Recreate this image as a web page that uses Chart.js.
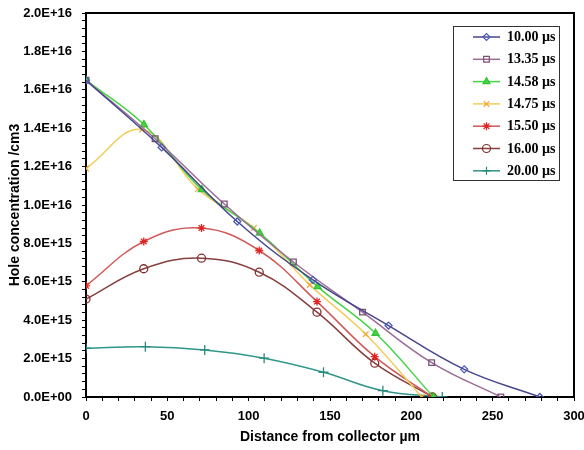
<!DOCTYPE html>
<html><head><meta charset="utf-8">
<script src="https://cdn.jsdelivr.net/npm/chart.js@4.4.0/dist/chart.umd.min.js"></script>
<style>html,body{margin:0;padding:0;background:#fff}#wrap{width:584px;height:450px}</style>
</head><body><div id="wrap"><canvas id="c" width="584" height="450"></canvas></div>
<script>
// ---- data ----
const seriesLabels = ['10.00 µs', '13.35 µs', '14.58 µs', '14.75 µs', '15.50 µs', '16.00 µs', '20.00 µs'];

const dist1000 = [0, 46.5, 93, 139.5, 186, 232.5, 279];
const conc1000 = [1.65e16, 1.30e16, 9.14e15, 6.1e15, 3.72e15, 1.44e15, 0];

const dist1335 = [0, 42.5, 85, 127.5, 170, 212.5, 255];
const conc1335 = [1.65e16, 1.345e16, 1.005e16, 7.03e15, 4.42e15, 1.79e15, 0];

const dist1458 = [0, 35.6, 71.2, 106.8, 142.4, 178, 213.6];
const conc1458 = [1.65e16, 1.419e16, 1.08e16, 8.54e15, 5.75e15, 3.32e15, 0];

const dist1475 = [0, 34.4, 68.8, 103.2, 137.6, 172, 206.4];
const conc1475 = [1.19e16, 1.393e16, 1.083e16, 8.8e15, 5.84e15, 3.27e15, 0];

const dist1550 = [0, 35.5, 71, 106.5, 142, 177.5, 213];
const conc1550 = [5.79e15, 8.1e15, 8.8e15, 7.63e15, 4.97e15, 2.1e15, 0];

const dist1600 = [0, 35.5, 71, 106.5, 142, 177.5, 213];
const conc1600 = [5.1e15, 6.68e15, 7.23e15, 6.5e15, 4.42e15, 1.76e15, 0];

const dist2000 = [0, 36.5, 73, 109.5, 146, 182.5, 219];
const conc2000 = [2.54e15, 2.62e15, 2.45e15, 2.02e15, 1.29e15, 0.33e15, 0];

const xTickMajor = [0, 50, 100, 150, 200, 250, 300];

// ---- styles ----
const styles = [
  {line: '#46468c', mark: '#4a5ab8', bg: 'rgba(0,0,0,0)', ps: 'rectRot', r: 3.5},
  {line: '#9c6c98', mark: '#7a5272', bg: 'rgba(0,0,0,0)', ps: 'rect', r: 4},
  {line: '#44d444', mark: '#33c433', bg: '#44d444', ps: 'triangle', r: 4},
  {line: '#f2cc5c', mark: '#f0a838', bg: 'rgba(0,0,0,0)', ps: 'crossRot', r: 4},
  {line: '#d05a5a', mark: '#e02424', bg: 'rgba(0,0,0,0)', ps: 'star', r: 4},
  {line: '#86403e', mark: '#86302e', bg: 'rgba(0,0,0,0)', ps: 'circle', r: 4},
  {line: '#2f968a', mark: '#2a8a7e', bg: 'rgba(0,0,0,0)', ps: 'cross', r: 5}
];

const allDist = [dist1000, dist1335, dist1458, dist1475, dist1550, dist1600, dist2000];
const allConc = [conc1000, conc1335, conc1458, conc1475, conc1550, conc1600, conc2000];

const datasets = seriesLabels.map((lab, k) => ({
  label: lab,
  data: allDist[k].map((x, i) => ({x: x, y: allConc[k][i]})),
  borderColor: styles[k].line,
  borderWidth: 1.5,
  tension: 0.4,
  fill: false,
  pointStyle: styles[k].ps,
  pointRadius: styles[k].r,
  pointBorderColor: styles[k].mark,
  pointBackgroundColor: styles[k].bg,
  pointBorderWidth: 1.3
}));

function fmtE(v) {
  v = Math.round(v / 2e15) * 2e15;
  if (v === 0) return '0.0E+00';
  const e = Math.floor(Math.log10(v) + 1e-9);
  const m = v / Math.pow(10, e);
  return m.toFixed(1) + 'E+' + (e < 10 ? '0' + e : String(e));
}

const frame = {
  id: 'frame',
  beforeDatasetsDraw(chart) {
    const {ctx, chartArea: a} = chart;
    ctx.save();
    ctx.strokeStyle = '#000';
    ctx.lineWidth = 2;
    ctx.beginPath();
    ctx.moveTo(a.left, a.top);
    ctx.lineTo(a.right, a.top);
    ctx.lineTo(a.right, a.bottom);
    ctx.stroke();
    ctx.restore();
  }
};

const boxLegend = {
  id: 'boxLegend',
  afterDraw(chart) {
    const ctx = chart.ctx;
    ctx.save();
    ctx.fillStyle = '#fff';
    ctx.fillRect(453, 26, 106, 154);
    ctx.strokeStyle = '#333';
    ctx.lineWidth = 1;
    ctx.strokeRect(453.5, 26.5, 106, 154);
    chart.data.datasets.forEach((ds, i) => {
      const y = 37 + i * 22.3;
      ctx.strokeStyle = ds.borderColor;
      ctx.lineWidth = 1.5;
      ctx.beginPath();
      ctx.moveTo(473, y);
      ctx.lineTo(500, y);
      ctx.stroke();
      ctx.strokeStyle = ds.pointBorderColor;
      ctx.fillStyle = ds.pointBackgroundColor;
      ctx.lineWidth = 1.2;
      Chart.helpers.drawPoint(ctx, {pointStyle: ds.pointStyle, radius: Math.min(ds.pointRadius, 4), rotation: 0, borderWidth: 1.2}, 486.5, y);
      ctx.fillStyle = '#000';
      ctx.font = 'bold 14px "Liberation Serif", "Times New Roman", serif';
      ctx.textBaseline = 'middle';
      ctx.textAlign = 'left';
      ctx.fillText(ds.label, 507, y + 0.5);
    });
    ctx.restore();
  }
};

const sansBold = {family: '"Liberation Sans", Arial, sans-serif', weight: 'bold', size: 13};

new Chart(document.getElementById('c'), {
  type: 'line',
  data: {datasets: datasets},
  options: {
    responsive: false,
    devicePixelRatio: 1,
    animation: false,
    layout: {padding: {top: 13, right: 10, bottom: 0, left: 0}},
    plugins: {legend: {display: false}, tooltip: {enabled: false}},
    scales: {
      x: {
        type: 'linear', min: 0, max: 300,
        ticks: {
          stepSize: 10, autoSkip: false, maxRotation: 0, padding: 8,
          color: '#000', font: sansBold,
          callback: v => xTickMajor.includes(Math.round(v)) && Math.abs(v - Math.round(v)) < 1e-6 ? String(Math.round(v)) : ''
        },
        grid: {drawOnChartArea: false, drawTicks: true, tickLength: 4, color: '#000', lineWidth: 1},
        border: {color: '#000', width: 2},
        title: {display: true, text: 'Distance from collector µm', color: '#000',
                font: {family: '"Liberation Sans", Arial, sans-serif', weight: 'bold', size: 14},
                padding: {top: 0, bottom: 4}},
        afterFit: s => { s.height = 53; s.paddingRight = 0; s.paddingLeft = 0; }
      },
      y: {
        type: 'linear', min: 0, max: 2e16,
        ticks: {
          stepSize: 4e14, autoSkip: false, padding: 10,
          color: '#000', font: sansBold,
          callback: v => Math.abs(v / 2e15 - Math.round(v / 2e15)) < 1e-6 ? fmtE(v) : ''
        },
        grid: {drawOnChartArea: false, drawTicks: true, tickLength: 4, color: '#000', lineWidth: 1},
        border: {color: '#000', width: 2},
        title: {display: true, text: 'Hole concentration /cm3', color: '#000',
                font: {family: '"Liberation Sans", Arial, sans-serif', weight: 'bold', size: 14},
                padding: {top: 7, bottom: 0}},
        afterFit: s => { s.width = 86; s.paddingTop = 0; s.paddingBottom = 0; }
      }
    }
  },
  plugins: [frame, boxLegend]
});
</script>
</body></html>
